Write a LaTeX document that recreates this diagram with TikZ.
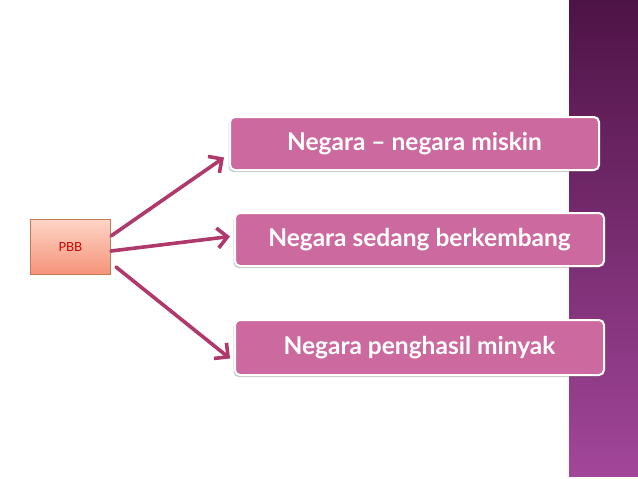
\documentclass[tikz,border=0pt]{standalone}
\usepackage{fontspec}
\setmainfont{Lato}
\usetikzlibrary{arrows.meta,shadows}
\definecolor{boxpink}{HTML}{CC6AA0}
\definecolor{arrowcol}{HTML}{B0396C}
\definecolor{bandtop}{HTML}{4E1346}
\definecolor{bandbot}{HTML}{A2469A}
\definecolor{pbbtop}{HTML}{FDD5C6}
\definecolor{pbbbot}{HTML}{F6937A}
\definecolor{pbbedge}{HTML}{C47A55}
\tikzset{
  catbox/.style={draw=white, line width=2pt, fill=boxpink, rounded corners=5pt,
    text=white, font=\bfseries\fontsize{24.5}{28}\selectfont,
    drop shadow={shadow xshift=-1.5pt, shadow yshift=-2pt, opacity=.35, fill=black!60},
    anchor=north west, inner sep=0pt},
  conn/.style={draw=arrowcol, line width=3.6pt, line cap=round,
    -{Straight Barb[length=10pt,width=20pt,line width=3.6pt]}},
}
\begin{document}
\begin{tikzpicture}[x=1pt,y=-1pt]
\useasboundingbox (0,0) rectangle (638,479);
\fill[white] (0,0) rectangle (638,479);
% purple band
\shade[top color=bandtop, bottom color=bandbot] (569,0) rectangle (638,476);
% PBB box
\node[draw=pbbedge, line width=0.8pt, top color=pbbtop, bottom color=pbbbot,
  minimum width=80pt, minimum height=55pt, anchor=north west, inner sep=0pt,
  text=red!78!black, font=\fontsize{12.5}{14}\selectfont] (pbb) at (30,219) {PBB};
% category boxes
\node[catbox, minimum width=369pt, minimum height=53pt] (b1) at (229,116) {Negara – negara miskin};
\node[catbox, minimum width=369pt, minimum height=53pt] (b2) at (234,212) {Negara sedang berkembang};
\node[catbox, minimum width=369pt, minimum height=55pt] (b3) at (234,319) {Negara penghasil minyak};
% connectors
\coordinate (s1) at (111,236);
\coordinate (s2) at (111,251);
\coordinate (s3) at (116,267);
\draw[conn] (s1) -- ([xshift=-5pt,yshift=-14pt]b1.west);
\draw[conn] (s2) -- ([xshift=-4pt,yshift=3pt]b2.west);
\draw[conn] (s3) -- ([xshift=-4pt,yshift=-11pt]b3.west);
\end{tikzpicture}
\end{document}
